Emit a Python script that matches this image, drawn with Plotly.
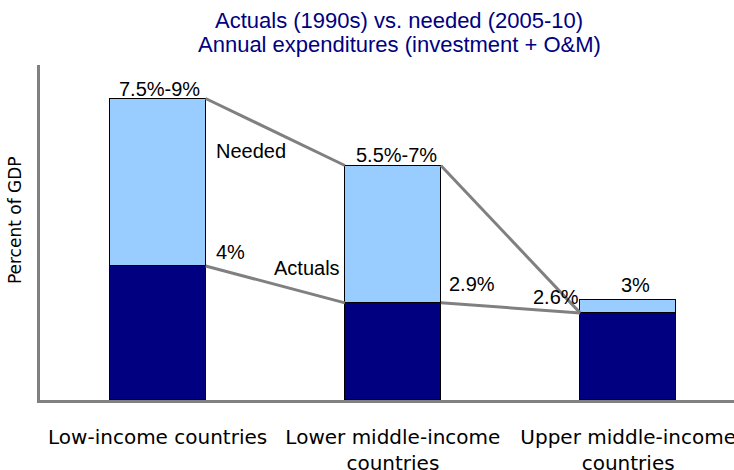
import plotly.graph_objects as go

categories = ["Low-income countries", "Lower middle-income<br>countries", "Upper middle-income<br>countries"]
actuals = [4.0, 2.9, 2.6]
needed_total = [9.0, 7.0, 3.0]
top_labels = ["7.5%-9%", "5.5%-7%", "3%"]
actual_labels = ["4%", "2.9%", "2.6%"]
title_lines = ["Actuals (1990s) vs. needed (2005-10)", "Annual expenditures (investment + O&M)"]

x = [0, 1, 2]
bw = 0.408
needed_inc = [n - a for n, a in zip(needed_total, actuals)]

NAVY = "#000080"
LIGHT = "#99CCFF"
GRAY = "#808080"
FONT = "Liberation Sans, Arial, sans-serif"
TFONT = "DejaVu Sans, Verdana, sans-serif"

fig = go.Figure()
fig.add_trace(go.Bar(x=x, y=actuals, width=bw, marker=dict(color=NAVY, line=dict(color="black", width=1)),
                     name="Actuals", showlegend=False, hoverinfo="skip"))
fig.add_trace(go.Bar(x=x, y=needed_inc, width=bw, marker=dict(color=LIGHT, line=dict(color="black", width=1)),
                     name="Needed", showlegend=False, hoverinfo="skip"))

# connector lines
h = bw / 2
up_x = [x[0] + h, x[1] - h, None, x[1] + h, x[2] - h]
up_y = [needed_total[0], needed_total[1], None, needed_total[1], actuals[2]]
lo_x = [x[0] + h, x[1] - h, None, x[1] + h, x[2] - h]
lo_y = [actuals[0], actuals[1], None, actuals[1], actuals[2]]
for xs, ys in [(up_x, up_y), (lo_x, lo_y)]:
    fig.add_trace(go.Scatter(x=xs, y=ys, mode="lines", line=dict(color=GRAY, width=3),
                             showlegend=False, hoverinfo="skip", cliponaxis=False))

fs = 20
lf = dict(size=fs, color="black", family=FONT)
ann = []
# top labels
ann.append(dict(x=x[0], y=needed_total[0], text=top_labels[0], showarrow=False, xanchor="center",
                yanchor="middle", xshift=2, yshift=10, font=lf))
ann.append(dict(x=x[1], y=needed_total[1], text=top_labels[1], showarrow=False, xanchor="center",
                yanchor="middle", xshift=4, yshift=11, font=lf))
ann.append(dict(x=x[2], y=needed_total[2], text=top_labels[2], showarrow=False, xanchor="center",
                yanchor="middle", xshift=7, yshift=15, font=lf))
# actual labels
ann.append(dict(x=x[0] + h, y=actuals[0], text=actual_labels[0], showarrow=False, xanchor="left",
                yanchor="middle", xshift=8, yshift=14, font=lf))
ann.append(dict(x=x[1] + h, y=actuals[1], text=actual_labels[1], showarrow=False, xanchor="left",
                yanchor="middle", xshift=6, yshift=19, font=lf))
ann.append(dict(x=x[2] - h, y=actuals[2], text=actual_labels[2], showarrow=False, xanchor="right",
                yanchor="middle", xshift=1, yshift=16, font=lf))
# series labels
ann.append(dict(x=x[0] + h, y=needed_total[0], text="Needed", showarrow=False,
                xanchor="left", yanchor="middle", xshift=8, yshift=-52, font=lf))
ann.append(dict(x=x[1] - h, y=actuals[1], text="Actuals", showarrow=False,
                xanchor="right", yanchor="middle", xshift=-3, yshift=35, font=lf))
# title lines
ann.append(dict(xref="paper", yref="paper", x=0.518, y=1.134, text=title_lines[0], showarrow=False,
                xanchor="center", yanchor="middle", font=dict(size=22, color=NAVY, family=FONT)))
ann.append(dict(xref="paper", yref="paper", x=0.518, y=1.060, text=title_lines[1], showarrow=False,
                xanchor="center", yanchor="middle", font=dict(size=22, color=NAVY, family=FONT)))
# y axis title
ann.append(dict(xref="paper", yref="paper", x=0, y=0.537, xshift=-25, text="Percent of GDP", showarrow=False,
                textangle=-90, xanchor="center", yanchor="middle", font=dict(size=17, color="black", family=TFONT)))

fig.update_layout(
    width=734, height=470,
    margin=dict(l=40, r=0, t=65, b=70),
    paper_bgcolor="white", plot_bgcolor="white",
    barmode="stack", bargap=0,
    annotations=ann,
    xaxis=dict(range=[-0.5, 2.45], tickmode="array", tickvals=x, ticktext=categories,
               showline=True, linecolor=GRAY, linewidth=3, showgrid=False, zeroline=False,
               ticks="", ticklabelstandoff=17, automargin=False, ticklabeloverflow="allow",
               tickfont=dict(size=20, color="black", family=TFONT)),
    yaxis=dict(range=[0, 10], showline=True, linecolor=GRAY, linewidth=3, showgrid=False, zeroline=False,
               showticklabels=False, ticks="", automargin=False),
)

fig.write_html("out.html", config={"displayModeBar": False},
               post_script="document.body.style.margin='0';document.body.style.overflow='hidden';")
